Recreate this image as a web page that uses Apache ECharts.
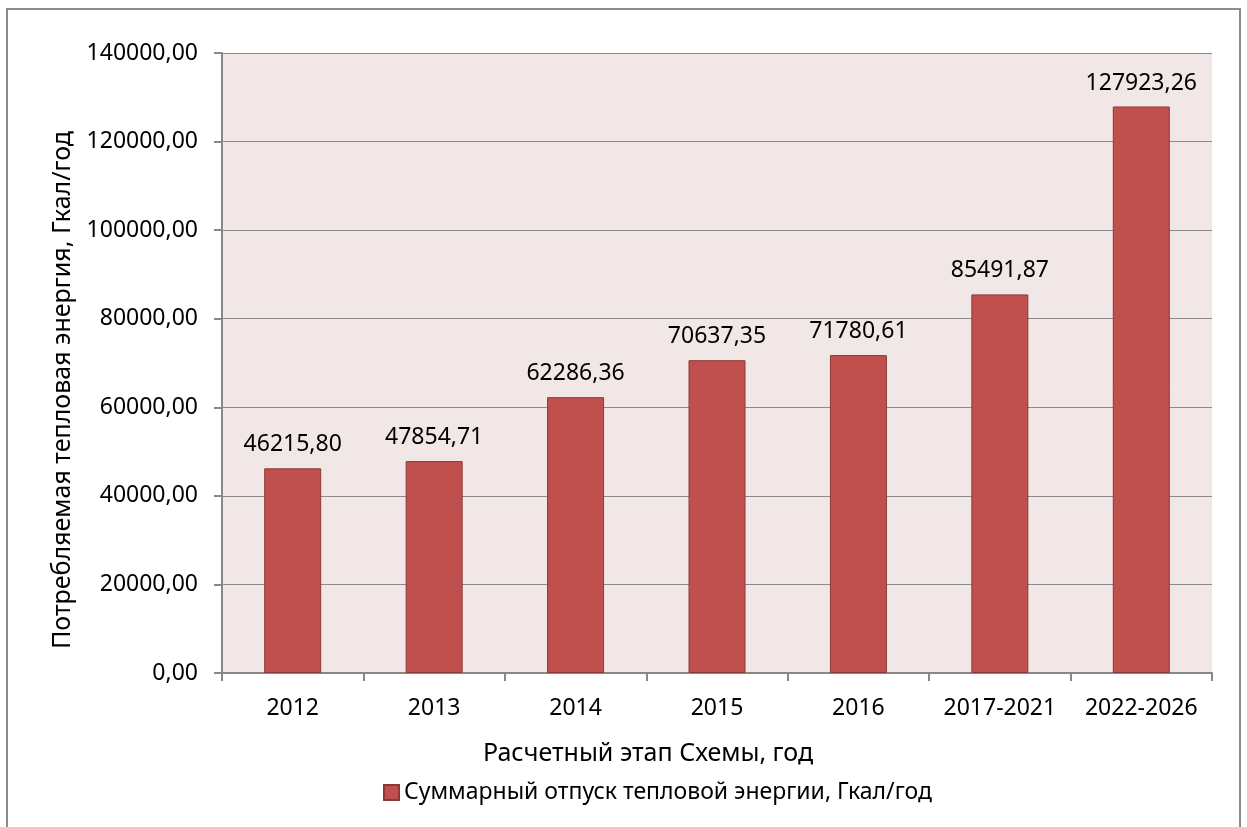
<!DOCTYPE html>
<html>
<head>
<meta charset="utf-8">
<script src="https://cdn.jsdelivr.net/npm/echarts@6/dist/echarts.min.js"></script>
<style>
    html, body { margin: 0; padding: 0; background: #fff; }
    #chart { width: 1247px; height: 827px; }
</style>
</head>
<body>
<div id="chart"></div>
<script>
const categories = ['2012', '2013', '2014', '2015', '2016', '2017-2021', '2022-2026'];
const heatValues = [46215.80, 47854.71, 62286.36, 70637.35, 71780.61, 85491.87, 127923.26];
const seriesName = 'Суммарный отпуск тепловой энергии, Гкал/год';
const yAxisName = 'Потребляемая тепловая энергия, Гкал/год';
const xAxisName = 'Расчетный этап Схемы, год';

const font = 'Noto Sans';
const fmt = v => Number(v).toFixed(2).replace('.', ',');

const option = {
    animation: false,
    textStyle: { fontFamily: font },
    graphic: [{
        type: 'rect',
        shape: { x: 7, y: 9, width: 1233, height: 830 },
        style: { fill: 'none', stroke: '#8c8c8c', lineWidth: 2 },
        silent: true
    }],
    grid: {
        left: 222, right: 35, top: 53, bottom: 154,
        show: true, backgroundColor: '#f2e7e7', borderWidth: 0
    },
    legend: {
        data: [seriesName],
        left: 378, top: 776,
        itemWidth: 15, itemHeight: 15, itemGap: 6,
        icon: 'rect',
        textStyle: { fontFamily: font, fontSize: 23, color: '#000' }
    },
    xAxis: {
        type: 'category',
        data: categories,
        name: xAxisName,
        nameLocation: 'middle',
        nameGap: 68,
        nameTextStyle: { fontSize: 25, color: '#000', padding: [0, 138, 0, 0] },
        axisLine: { lineStyle: { color: '#888', width: 2 } },
        axisTick: { show: true, interval: 0, length: 8, lineStyle: { color: '#888', width: 2 } },
        axisLabel: { interval: 0, fontSize: 23, color: '#000', margin: 24 }
    },
    yAxis: {
        type: 'value',
        min: 0, max: 140000, interval: 20000,
        name: yAxisName,
        nameLocation: 'middle',
        nameGap: 146,
        nameTextStyle: { fontSize: 25, color: '#000', padding: [0, 54, 0, 0] },
        axisLine: { show: true, lineStyle: { color: '#888', width: 2 } },
        axisTick: { show: true, length: 8, lineStyle: { color: '#888', width: 2 } },
        axisLabel: { fontSize: 23, color: '#000', margin: 24, formatter: fmt },
        splitLine: { lineStyle: { color: '#8a8a8a', width: 1 } }
    },
    series: [{
        name: seriesName,
        type: 'bar',
        data: heatValues,
        barWidth: 57,
        itemStyle: { color: '#c0504d', borderColor: '#8c3836', borderWidth: 1 },
        label: {
            show: true, position: 'top', distance: 12,
            fontSize: 23, color: '#000',
            formatter: p => fmt(p.value)
        }
    }]
};

const chart = echarts.init(document.getElementById('chart'));
chart.setOption(option);
window.addEventListener('resize', function () {
    chart.resize();
});
</script>
</body>
</html>
